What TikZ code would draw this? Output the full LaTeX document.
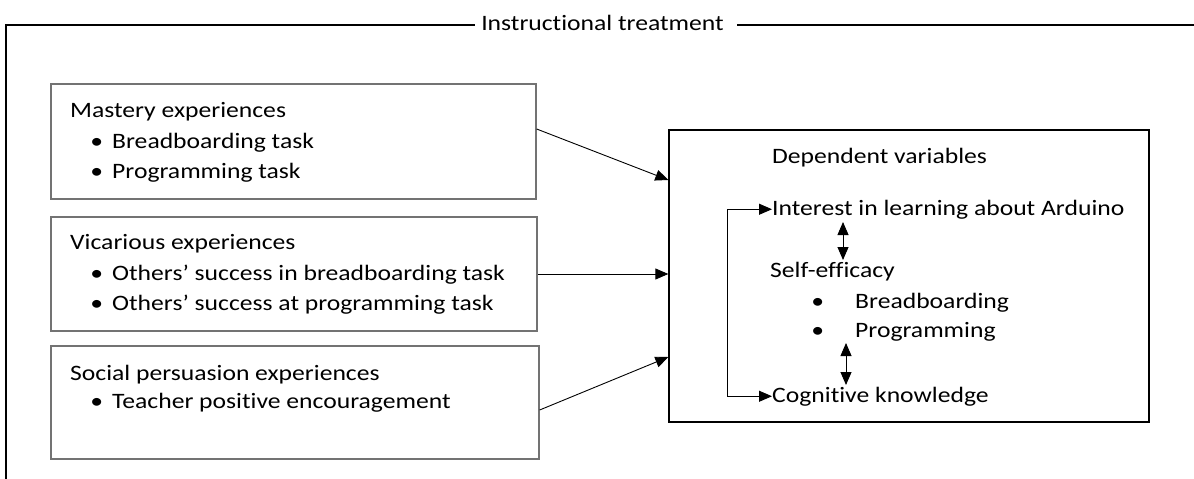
\documentclass[tikz,border=0pt]{standalone}
\usepackage{fontspec}
\setmainfont{Carlito}[FakeStretch=1.165,Ligatures=NoCommon]
\usepackage{tikz}
\usetikzlibrary{arrows.meta}

\newcommand{\lbul}{\llap{\textbullet\hspace{9pt}}}
\newcommand{\rbul}{\llap{\textbullet\hspace{31pt}}}

\tikzset{
  txt/.style={anchor=base west,inner sep=0pt},
  srcbox/.style={draw=black!55,line width=1.3pt},
  dvbox/.style={draw=black,line width=1.3pt}
}

\begin{document}
\begin{tikzpicture}[x=1pt,y=-1pt,font=\fontsize{22}{30}\selectfont,
  >={Triangle[length=13pt,width=11pt]}]
  \useasboundingbox (0,0) rectangle (1194,479);

  % outer frame
  \node[anchor=base,inner sep=0pt] (title) at (602.5,30) {Instructional treatment};
  \coordinate (fbot) at (6,479);
  \coordinate (fl) at (475,25);
  \coordinate (fr) at (737,25);
  \coordinate (fend) at (1194,25);
  \draw[line width=2pt] (fbot) |- (fl);
  \draw[line width=2pt] (fr) -- (fend);

  % sources
  \node[srcbox,minimum width=485pt,minimum height=115pt] (mastery) at (293.5,141.5) {};
  \node[srcbox,minimum width=486pt,minimum height=114pt] (vicarious) at (294,274) {};
  \node[srcbox,minimum width=488pt,minimum height=113pt] (social) at (295,402.5) {};

  \node[txt] (m0) at (70,117) {Mastery experiences};
  \node[txt] (m1) at (112,148) {\lbul Breadboarding task};
  \node[txt] (m2) at (112,178) {\lbul Programming task};

  \node[txt] (v0) at (70,249) {Vicarious experiences};
  \node[txt] (v1) at (112,280) {\lbul Others’ success in breadboarding task};
  \node[txt] (v2) at (112,310) {\lbul Others’ success at programming task};

  \node[txt] (s0) at (70,380) {Social persuasion experiences};
  \node[txt] (s1) at (112,408) {\lbul Teacher positive encouragement};

  % dependent variables
  \node[dvbox,minimum width=480pt,minimum height=292pt] (dv) at (909,276) {};
  \node[txt] (dvtitle) at (772,163) {Dependent variables};
  \node[txt] (interest) at (772,215) {Interest in learning about Arduino};
  \node[txt] (selfeff) at (770,277) {Self-efficacy};
  \node[txt] (se1) at (855,308) {\rbul Breadboarding};
  \node[txt] (se2) at (855,337) {\rbul Programming};
  \node[txt] (cognitive) at (772,402) {Cognitive knowledge};

  \path [->,line width=0.9pt] ([yshift=12.5pt]mastery.east) edge ([yshift=96pt]dv.west);
  \path [->,line width=0.9pt] (vicarious.east) edge ([yshift=2pt]dv.west);
  \path [->,line width=0.9pt] ([yshift=-7.5pt]social.east) edge ([yshift=-81pt]dv.west);

  \draw [<->,line width=0.9pt] (interest.west) -- ++(-45,0) |- (cognitive.west);

  \coordinate (a1) at (843,222);
  \coordinate (b1) at (843,260);
  \coordinate (a2) at (846,343);
  \coordinate (b2) at (846,385);
  \draw [<->,line width=0.9pt] (a1) -- (b1);
  \draw [<->,line width=0.9pt] (a2) -- (b2);
\end{tikzpicture}
\end{document}
